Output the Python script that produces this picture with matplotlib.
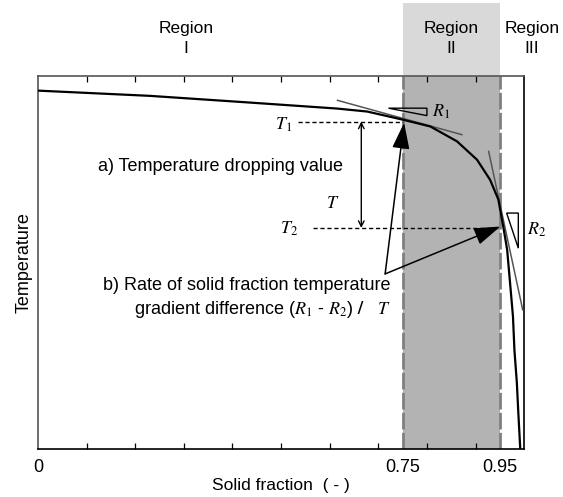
import matplotlib
matplotlib.use("Agg")
import matplotlib.pyplot as plt
from matplotlib.patches import Rectangle, Polygon

plt.rcParams['font.family'] = ['Liberation Sans', 'DejaVu Sans']
plt.rcParams['mathtext.fontset'] = 'stix'

# Curve (solid fraction, normalised temperature)
curve_x = [0.0, 0.23, 0.436, 0.615, 0.677, 0.751, 0.807, 0.862, 0.903, 0.930,
           0.947, 0.957, 0.965, 0.971, 0.977, 0.980, 0.985, 0.988, 0.992]
curve_y = [0.960, 0.946, 0.928, 0.912, 0.904, 0.882, 0.864, 0.824, 0.775, 0.721,
           0.668, 0.596, 0.534, 0.445, 0.355, 0.265, 0.177, 0.097, 0.0]

# tangent lines at T1 and T2
tan1_x = [0.616, 0.872]
tan1_y = [0.934, 0.842]
tan2_x = [0.927, 0.997]
tan2_y = [0.797, 0.373]

# slope triangles
tri_r1 = [(0.721, 0.913), (0.800, 0.913), (0.800, 0.893)]
tri_r2 = [(0.964, 0.632), (0.988, 0.632), (0.988, 0.538)]

region_bounds = [0.75, 0.95]
T1, T2 = 0.877, 0.592
tick_labels = ['0', '0.75', '0.95']
tick_pos = [0, 0.75, 0.95]
minor_ticks = [0.1, 0.2, 0.3, 0.4, 0.5, 0.6, 0.7, 0.8, 0.9]

fig = plt.figure(figsize=(5.63, 4.97), dpi=100)
ax = fig.add_axes([0.0675, 0.0966, 0.8635, 0.7511])
ax.set_xlim(0, 1)
ax.set_ylim(0, 1)

# region II shading
ax.axvspan(region_bounds[0], region_bounds[1], color='#b3b3b3', lw=0, zorder=0)
ax.add_patch(Rectangle((region_bounds[0], 1.0), region_bounds[1] - region_bounds[0], 0.196,
                       transform=ax.get_xaxis_transform(), color='#d9d9d9', lw=0, clip_on=False))
for b in region_bounds:
    ax.axvline(b, color='#808080', lw=2, ls=(0, (6, 1.2)), zorder=1)

ax.plot(curve_x, curve_y, color='k', lw=1.6, zorder=4)
ax.plot(tan1_x, tan1_y, color='#555555', lw=1.1, zorder=3)
ax.plot(tan2_x, tan2_y, color='#555555', lw=1.1, zorder=3)
ax.add_patch(Polygon(tri_r1, closed=True, fill=False, ec='k', lw=1))
ax.add_patch(Polygon(tri_r2, closed=True, fill=False, ec='k', lw=1, clip_on=False))
ax.text(0.811, 0.903, '$R_1$', fontsize=13, va='center')
ax.text(1.005, 0.587, '$R_2$', fontsize=13, va='center')

# T1 / T2 levels
ax.plot([0.535, 0.751], [T1, T1], color='k', lw=1, ls=(0, (3, 2)))
ax.plot([0.566, 0.951], [T2, T2], color='k', lw=1, ls=(0, (3, 2)))
ax.text(0.523, T1 - 0.008, '$T_1$', fontsize=13, ha='right', va='center')
ax.text(0.535, T2 - 0.002, '$T_2$', fontsize=13, ha='right', va='center')
ax.annotate('', xy=(0.665, T2), xytext=(0.665, T1),
            arrowprops=dict(arrowstyle='<->', color='k', lw=1, shrinkA=0, shrinkB=0))
ax.text(0.607, 0.657, '$T$', fontsize=13, ha='center', va='center')
ax.text(0.124, 0.757, 'a) Temperature dropping value', fontsize=13, va='center')

# rate of gradient difference arrows
base = (0.714, 0.469)
for tip in [(0.753, 0.874), (0.951, 0.596)]:
    ax.annotate('', xy=tip, xytext=base,
                arrowprops=dict(arrowstyle='-|>,head_length=0.9,head_width=0.3',
                                mutation_scale=18, color='k', lw=1.1,
                                shrinkA=0, shrinkB=0))
ax.text(0.726, 0.437, 'b) Rate of solid fraction temperature', fontsize=13,
        ha='right', va='center')
ax.text(0.726, 0.375, r'gradient difference ($R_1$ - $R_2$) $\mathbf{/}$   $T$', fontsize=13,
        ha='right', va='center')

# region labels
for xpos, lab in [(0.305, 'Region\nI'), (0.85, 'Region\nII'), (1.016, 'Region\nIII')]:
    ax.text(xpos, 1.10, lab, fontsize=12.5, ha='center', va='center',
            transform=ax.transAxes, linespacing=1.45)

ax.set_xticks(tick_pos)
ax.set_xticklabels(tick_labels, fontsize=13)
ax.set_xticks(minor_ticks, minor=True)
ax.set_yticks([])
ax.tick_params(axis='x', which='major', length=0, pad=7)
ax.tick_params(axis='x', which='minor', direction='in', length=4.5, top=True, width=0.9)
ax.spines['left'].set_color('#555555')
ax.spines['top'].set_color('#555555')
for s in ax.spines.values():
    s.set_linewidth(1.2)

ax.set_xlabel('Solid fraction  ( - )', fontsize=12.5, labelpad=2)
ax.set_ylabel('Temperature', fontsize=13, labelpad=4)

fig.savefig('out.png', dpi=100)
